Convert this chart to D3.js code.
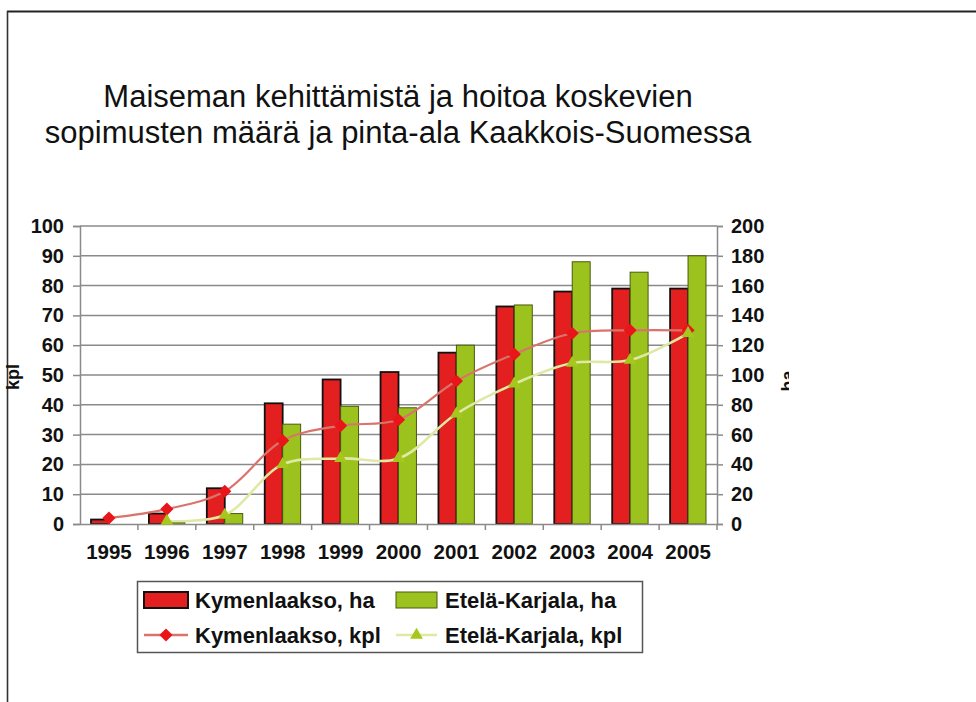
<!DOCTYPE html>
<html>
<head>
<meta charset="utf-8">
<script src="https://cdn.jsdelivr.net/npm/d3@7"></script>
<style>
html,body{margin:0;padding:0;background:#fff;}
svg{display:block;font-family:"Liberation Sans",Arial,sans-serif;}
</style>
</head>
<body>
<svg id="chart" width="976" height="702"></svg>
<script>
const years = ["1995","1996","1997","1998","1999","2000","2001","2002","2003","2004","2005"];
const kymHa = [3, 7, 24, 81, 97, 102, 115, 146, 156, 158, 158];
const ekHa = [0, 1, 7, 67, 79, 78, 120, 147, 176, 169, 180];
const kymKpl = [2, 5, 11, 28, 33, 35, 48, 57, 64, 65, 65];
const ekKpl = [null, 1, 3, 20, 22, 22, 37, 47, 54, 55, 64];
const leftTicks = [0,10,20,30,40,50,60,70,80,90,100];
const rightTicks = [0,20,40,60,80,100,120,140,160,180,200];
const titleLines = ["Maiseman kehittämistä ja hoitoa koskevien","sopimusten määrä ja pinta-ala Kaakkois-Suomessa"];
const legendItems = ["Kymenlaakso, ha","Etelä-Karjala, ha","Kymenlaakso, kpl","Etelä-Karjala, kpl"];

const svg = d3.select("#chart");
const red = "#e3201f", green = "#9cc21e";
const redLine = "#d9746c", greenLine = "#dfe9a4";
const gridC = "#8a8a8a";

// frame
svg.append("line").attr("x1",7).attr("x2",976).attr("y1",11.5).attr("y2",11.5).attr("stroke","#222").attr("stroke-width",2);
svg.append("line").attr("x1",7.5).attr("x2",7.5).attr("y1",11).attr("y2",702).attr("stroke","#333").attr("stroke-width",1.6);

// title
svg.append("g").selectAll("text").data(titleLines).join("text")
  .attr("x",398).attr("y",(d,i)=>107+i*36).attr("text-anchor","middle")
  .attr("font-size",31).attr("fill","#111").text(d=>d);

const L=80, R=717, T=226, B=524;
const x = d3.scaleBand().domain(years).range([L,R]);
const yL = d3.scaleLinear().domain([0,100]).range([B,T]);
const yR = d3.scaleLinear().domain([0,200]).range([B,T]);
const bw = x.bandwidth()*0.31;

// gridlines
svg.append("g").selectAll("line").data(leftTicks.slice(1)).join("line")
  .attr("x1",L).attr("x2",R).attr("y1",d=>yL(d)).attr("y2",d=>yL(d))
  .attr("stroke",gridC).attr("stroke-width",1.5);

// left axis
const gl = svg.append("g").attr("transform",`translate(${L},0)`)
  .call(d3.axisLeft(yL).tickValues(leftTicks).tickSize(7).tickPadding(9));
// right axis
const gr = svg.append("g").attr("transform",`translate(${R},0)`)
  .call(d3.axisRight(yR).tickValues(rightTicks).tickSize(6).tickPadding(8));
[gl,gr].forEach(g=>{
  g.select(".domain").attr("stroke",gridC).attr("stroke-width",1.5);
  g.selectAll(".tick line").attr("stroke",gridC).attr("stroke-width",1.5);
  g.selectAll(".tick text").attr("font-size",20).attr("font-weight","bold").attr("fill","#111")
    .attr("font-family","'Liberation Sans',Arial,sans-serif");
});

// bars
svg.append("g").selectAll("rect").data(years).join("rect")
  .attr("x",d=>x(d)+x.bandwidth()/2-bw).attr("width",bw)
  .attr("y",(d,i)=>yR(kymHa[i])).attr("height",(d,i)=>B-yR(kymHa[i]))
  .attr("fill",red).attr("stroke","#111").attr("stroke-width",1.8);
svg.append("g").selectAll("rect").data(years.filter((d,i)=>ekHa[i]>0)).join("rect")
  .attr("x",d=>x(d)+x.bandwidth()/2).attr("width",bw)
  .attr("y",d=>yR(ekHa[years.indexOf(d)])).attr("height",d=>B-yR(ekHa[years.indexOf(d)]))
  .attr("fill",green).attr("stroke","#4a5a10").attr("stroke-width",1);

// x axis
const gx = svg.append("g").attr("transform",`translate(0,${B})`)
  .call(d3.axisBottom(x).tickSize(0).tickPadding(20));
gx.select(".domain").attr("stroke",gridC).attr("stroke-width",1.5);
gx.selectAll(".tick text").attr("font-size",20.5).attr("font-weight","bold").attr("fill","#111")
  .attr("font-family","'Liberation Sans',Arial,sans-serif");
svg.append("g").selectAll("line").data(years.slice(1).concat(["end"])).join("line")
  .attr("x1",d=>d==="end"?R:x(d)).attr("x2",d=>d==="end"?R:x(d))
  .attr("y1",B).attr("y2",B+6).attr("stroke",gridC).attr("stroke-width",1.5);

// lines
const cx = d=>x(d)+x.bandwidth()/2;
const lineGen = d3.line().defined(d=>d.v!=null).x(d=>cx(d.y)).y(d=>yL(d.v)).curve(d3.curveCatmullRom.alpha(0.5));
const kData = years.map((y,i)=>({y,v:kymKpl[i]}));
const eData = years.map((y,i)=>({y,v:ekKpl[i]}));
svg.append("path").datum(kData).attr("d",lineGen).attr("fill","none").attr("stroke",redLine).attr("stroke-width",2.2);
svg.append("path").datum(eData.filter(d=>d.v!=null)).attr("d",lineGen).attr("fill","none").attr("stroke",greenLine).attr("stroke-width",2.6);
const diamond = d3.symbol().type(d3.symbolDiamond2 || d3.symbolDiamond).size(d3.symbolDiamond2 ? 110 : 90);
const tri = d3.symbol().type(d3.symbolTriangle).size(70);
svg.append("g").selectAll("path").data(kData).join("path")
  .attr("transform",d=>`translate(${cx(d.y)},${yL(d.v)})`).attr("d",diamond).attr("fill","#e8161b");
svg.append("g").selectAll("path").data(eData.filter(d=>d.v!=null)).join("path")
  .attr("transform",d=>`translate(${cx(d.y)},${yL(d.v)})`).attr("d",tri).attr("fill","#a6c81e");

// axis titles
svg.append("text").attr("transform","translate(19,377) rotate(-90)").attr("text-anchor","middle")
  .attr("font-size",18).attr("font-weight","bold").attr("fill","#111").text("kpl");
svg.append("clipPath").attr("id","clipR").append("rect").attr("x",0).attr("y",0).attr("width",789).attr("height",702);
svg.append("g").attr("clip-path","url(#clipR)")
  .append("text").attr("transform","translate(794,381) rotate(-90)").attr("text-anchor","middle")
  .attr("font-size",18).attr("font-weight","bold").attr("fill","#111").text("ha");

// legend
const lg = svg.append("g");
lg.append("rect").attr("x",137.5).attr("y",581.5).attr("width",505).attr("height",71)
  .attr("fill","#fff").attr("stroke","#555").attr("stroke-width",1.5);
const lx = [144,396], tx=[195,445], ry=[600,635];
legendItems.forEach((t,i)=>{
  const col=i%2, row=Math.floor(i/2);
  const cyy = ry[row];
  if(row===0){
    lg.append("rect").attr("x",lx[col]).attr("y",cyy-8).attr("width",col===0?44:41).attr("height",16)
      .attr("fill",col===0?red:green).attr("stroke",col===0?"#111":"#4a5a10").attr("stroke-width",col===0?2:1);
  } else {
    const w = col===0?44:41;
    lg.append("line").attr("x1",lx[col]).attr("x2",lx[col]+w).attr("y1",cyy).attr("y2",cyy)
      .attr("stroke",col===0?redLine:greenLine).attr("stroke-width",2.4);
    lg.append("path").attr("transform",`translate(${lx[col]+w/2},${cyy})`)
      .attr("d",col===0?diamond:tri).attr("fill",col===0?"#e8161b":"#a6c81e");
  }
  lg.append("text").attr("x",tx[col]).attr("y",cyy+7.5).attr("font-size",22).attr("font-weight","bold")
    .attr("fill","#111").text(t);
});
</script>
</body>
</html>
